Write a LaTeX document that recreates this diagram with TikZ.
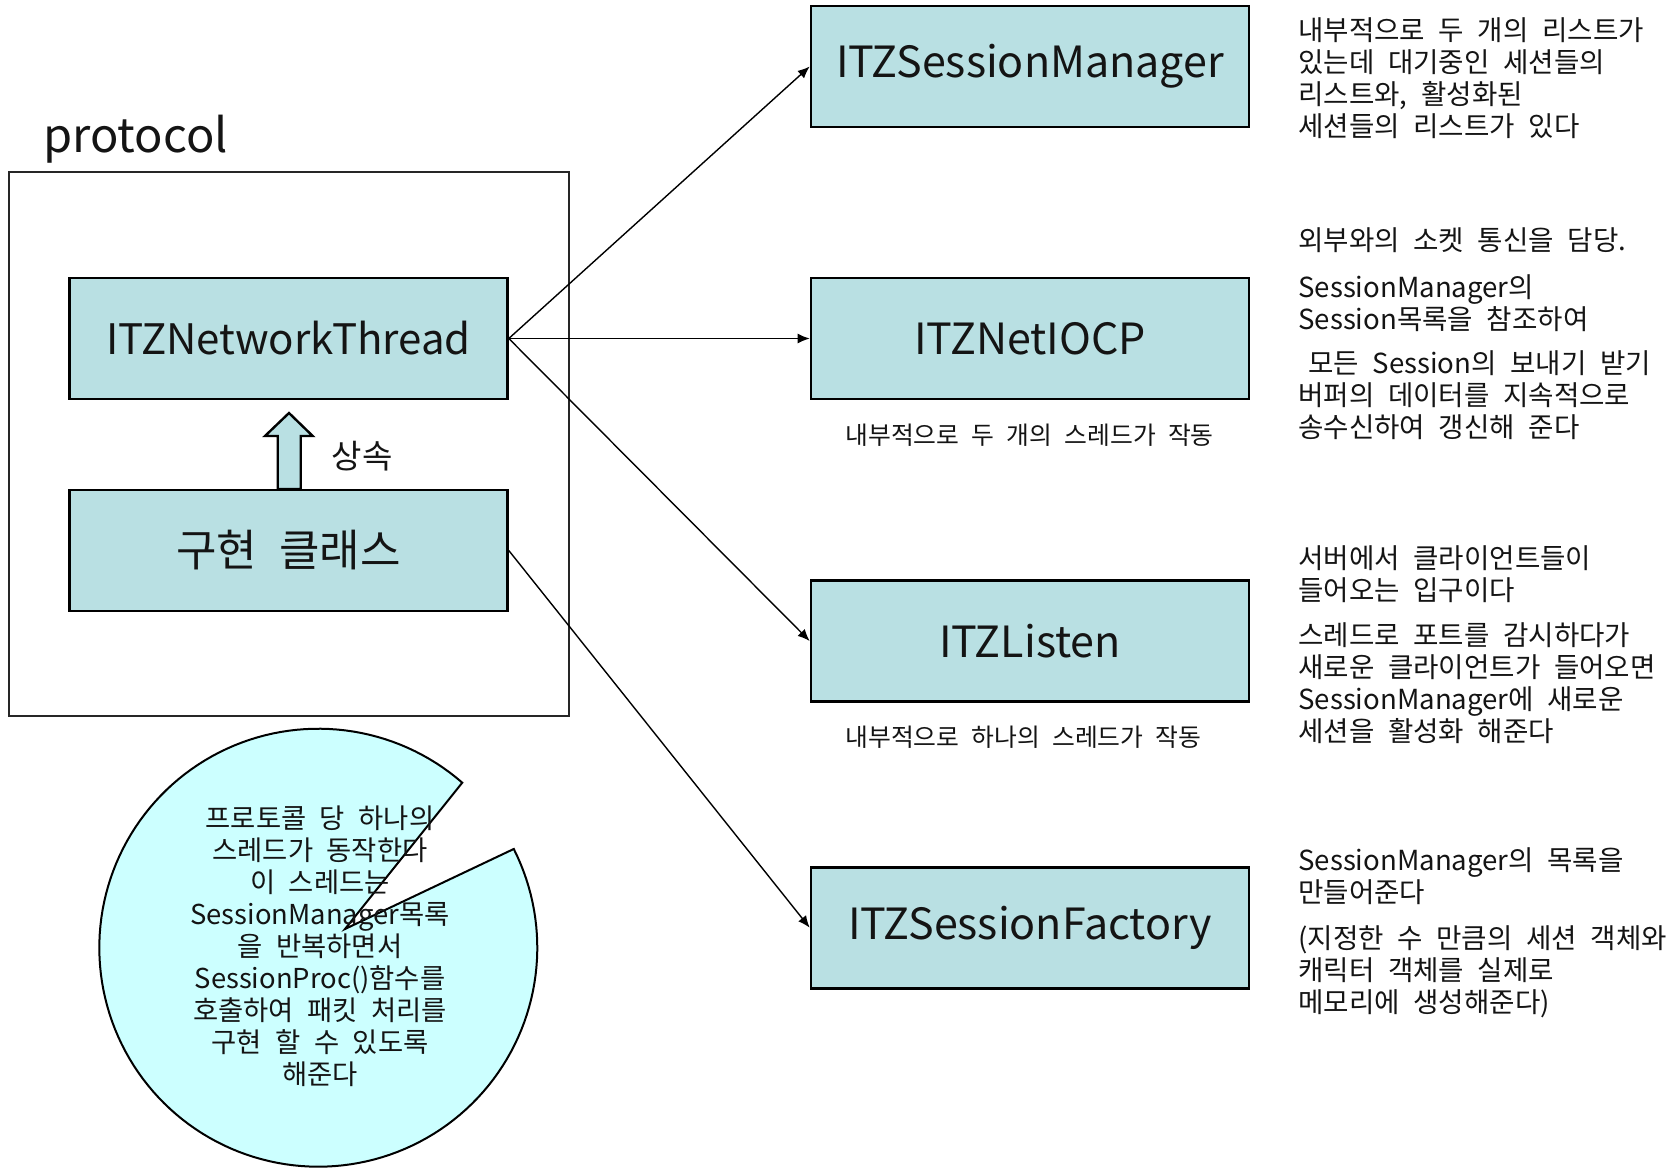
\documentclass[tikz,border=0pt]{standalone}
\usepackage{fontspec}
\setmainfont{Noto Sans CJK KR}[WordSpace=2.2]
\usetikzlibrary{arrows.meta}
\definecolor{boxfill}{RGB}{185,224,227}
\definecolor{circfill}{RGB}{204,255,255}
\definecolor{ink}{RGB}{20,20,20}
\tikzset{
  box/.style={draw=black, line width=1.3pt, fill=boxfill, minimum width=219pt, minimum height=60.5pt, inner sep=0pt, text=ink, font=\fontsize{21.5pt}{26pt}\selectfont},
  conn/.style={line width=0.7pt, -{Latex[length=6pt,width=5pt]}},
  note/.style={anchor=base west, align=left, inner sep=0pt, text=ink, font=\fontsize{13.8pt}{16pt}\selectfont},
  sub/.style={anchor=base west, inner sep=0pt, text=ink, font=\fontsize{12.4pt}{15pt}\selectfont},
}
\begin{document}
\begin{tikzpicture}[x=0.5pt,y=-0.5pt]
\useasboundingbox (0,0) rectangle (1671,1168);
% protocol frame
\node[draw=black!85, line width=1pt, minimum width=280.25pt, minimum height=272pt, inner sep=0pt] (frame) at (288.75,444) {};
\node[anchor=base west, inner sep=0pt, text=ink, font=\fontsize{23.5pt}{28pt}\selectfont] (proto) at (43,152) {protocol};
% boxes
\node[box, font=\fontsize{21pt}{26pt}\selectfont] (nt) at (288.5,338.5) {ITZNetworkThread};
\node[box, font=\fontsize{22pt}{26pt}\selectfont] (impl) at (288.5,550.5) {구현 클래스};
\node[box] (sm) at (1030,66.5) {ITZSessionManager};
\node[box] (iocp) at (1030,338.5) {ITZNetIOCP};
\node[box] (lis) at (1030,641) {ITZListen};
\node[box] (fac) at (1030,927.7) {ITZSessionFactory};
% inheritance arrow
\draw[line width=1.2pt, fill=boxfill, line join=miter]
  (277.7,489) -- (277.7,436) -- (265,436) -- (289,413) -- (312.7,436) -- (300.7,436) -- (300.7,489) -- cycle;
\node[inner sep=0pt, text=ink, font=\fontsize{16.5pt}{20pt}\selectfont] (inh) at (362,456) {상속};
% connectors
\draw[conn] (nt.east) -- (sm.west);
\draw[conn] (nt.east) -- (iocp.west);
\draw[conn] (nt.east) -- (lis.west);
\draw[conn] (impl.east) -- (fac.west);
% sub labels
\node[sub] (iocpnote) at (845,444) {내부적으로 두 개의 스레드가 작동};
\node[sub] (lisnote) at (845,746) {내부적으로 하나의 스레드가 작동};
% right notes (base = baseline of last line)
\node[note] (r1) at (1298,136) {내부적으로 두 개의 리스트가\\있는데 대기중인 세션들의\\리스트와, 활성화된\\세션들의 리스트가 있다};
\node[note] (r2a) at (1298,250) {외부와의 소켓 통신을 담당.};
\node[note] (r2b) at (1298,329) {SessionManager의\\Session목록을 참조하여};
\node[note] (r2c) at (1298,437.5) {\hspace{5pt}모든 Session의 보내기 받기\\버퍼의 데이터를 지속적으로\\송수신하여 갱신해 준다};
\node[note] (r3a) at (1298,600.5) {서버에서 클라이언트들이\\들어오는 입구이다};
\node[note] (r3b) at (1298,741) {스레드로 포트를 감시하다가\\새로운 클라이언트가 들어오면\\SessionManager에 새로운\\세션을 활성화 해준다};
\node[note] (r4a) at (1298,902) {SessionManager의 목록을\\만들어준다};
\node[note] (r4b) at (1298,1012) {(지정한 수 만큼의 세션 객체와\\캐릭터 객체를 실제로\\메모리에 생성해준다)};
% callout (circle with a wedge cut out)
\draw[line width=1pt, fill=circfill, line join=miter]
  (345,929) -- plot[domain=48.9:386.8, samples=160] ({318.3+219*cos(\x)},{947.7-219*sin(\x)}) -- cycle;
\node[anchor=base, align=center, inner sep=0pt, text=ink, font=\fontsize{13.7pt}{16pt}\selectfont] (ct) at (320,1084.5) {프로토콜 당 하나의\\스레드가 동작한다\\이 스레드는\\SessionManager목록\\을 반복하면서\\SessionProc()함수를\\호출하여 패킷 처리를\\구현 할 수 있도록\\해준다};
\end{tikzpicture}
\end{document}
